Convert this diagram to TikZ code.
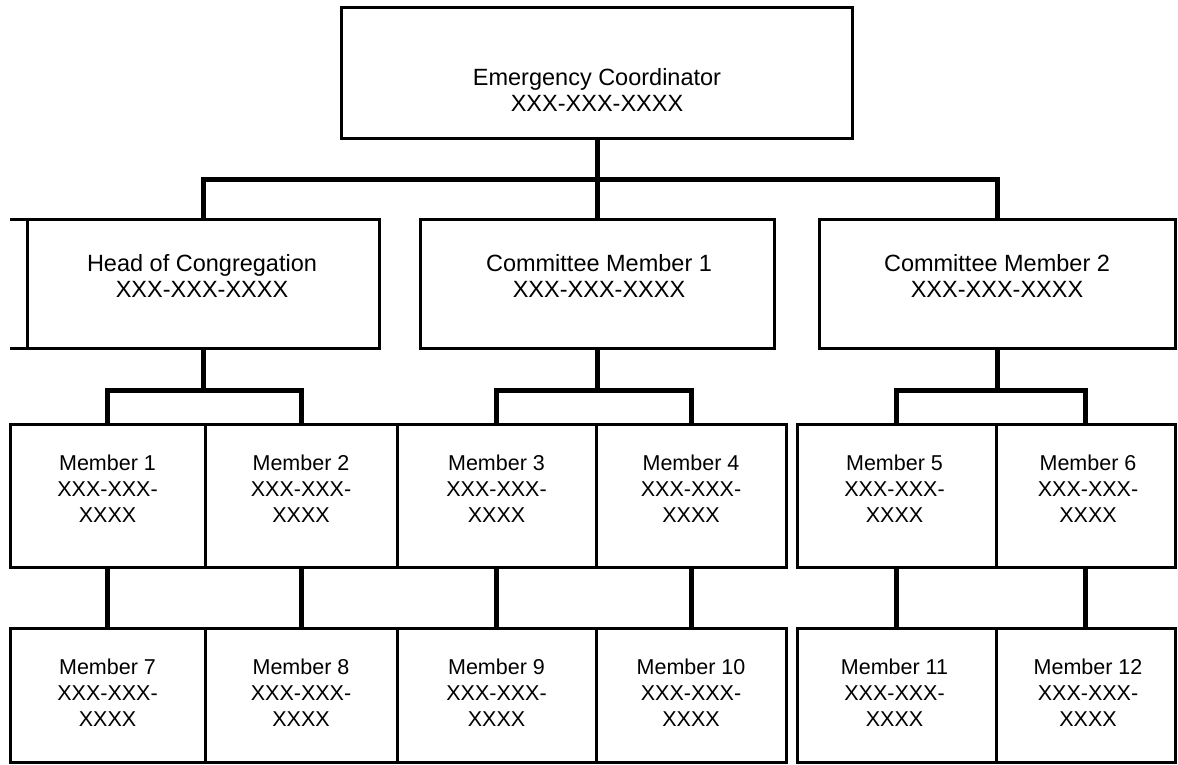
\documentclass[tikz,border=0pt]{standalone}
\usepackage{fontspec}
\setmainfont{Liberation Sans}
\usepackage{tikz}
\tikzstyle{orgbox}=[draw=black,line width=3pt,rectangle,inner sep=0pt,outer sep=0pt]
\tikzstyle{bigtext}=[align=center,inner sep=0pt,font=\fontsize{23.5}{26}\selectfont]
\tikzstyle{smalltext}=[align=center,inner sep=0pt,font=\fontsize{21.5}{26}\selectfont]
\tikzstyle{link}=[draw=black,line width=5pt,line join=miter]

\begin{document}
\begin{tikzpicture}[x=1pt,y=-1pt]
  \useasboundingbox (0,0) rectangle (1178,764);
  % top level
  \node [orgbox,minimum width=511pt,minimum height=131pt] (ec) at (597,72.5) {};
  \node [bigtext] (ectext) at (597,90) {Emergency Coordinator\\XXX-XXX-XXXX};
  % second level
  \node [orgbox,minimum width=352pt,minimum height=129pt] (head) at (203,283.5) {};
  \node [bigtext] (headtext) at (202,275.5) {Head of Congregation\\XXX-XXX-XXXX};
  \draw [orgbox] (head.north west) -- ++(-17,0);
  \draw [orgbox] (head.south west) -- ++(-17,0);
  \node [orgbox,minimum width=354pt,minimum height=129pt] (cm1) at (597,283.5) {};
  \node [bigtext] (cm1text) at (599,275.5) {Committee Member 1\\XXX-XXX-XXXX};
  \node [orgbox,minimum width=356pt,minimum height=129pt] (cm2) at (997,283.5) {};
  \node [bigtext] (cm2text) at (997,275.5) {Committee Member 2\\XXX-XXX-XXXX};
  % members, first row
  \node [orgbox,minimum width=195pt,minimum height=143pt] (m1) at (107.5,495.5) {};
  \node [orgbox,minimum width=192pt,minimum height=143pt] (m2) at (301,495.5) {};
  \node [orgbox,minimum width=199pt,minimum height=143pt] (m3) at (496.5,495.5) {};
  \node [orgbox,minimum width=190pt,minimum height=143pt] (m4) at (691,495.5) {};
  \node [orgbox,minimum width=199pt,minimum height=143pt] (m5) at (896.5,495.5) {};
  \node [orgbox,minimum width=179pt,minimum height=143pt] (m6) at (1085.5,495.5) {};
  \node [smalltext] (m1text) at (107.5,489) {Member 1\\XXX-XXX-\\XXXX};
  \node [smalltext] (m2text) at (301,489) {Member 2\\XXX-XXX-\\XXXX};
  \node [smalltext] (m3text) at (496.5,489) {Member 3\\XXX-XXX-\\XXXX};
  \node [smalltext] (m4text) at (691,489) {Member 4\\XXX-XXX-\\XXXX};
  \node [smalltext] (m5text) at (894.5,489) {Member 5\\XXX-XXX-\\XXXX};
  \node [smalltext] (m6text) at (1088,489) {Member 6\\XXX-XXX-\\XXXX};
  % members, second row
  \node [orgbox,minimum width=195pt,minimum height=134pt] (m7) at (107.5,695) {};
  \node [orgbox,minimum width=192pt,minimum height=134pt] (m8) at (301,695) {};
  \node [orgbox,minimum width=199pt,minimum height=134pt] (m9) at (496.5,695) {};
  \node [orgbox,minimum width=190pt,minimum height=134pt] (m10) at (691,695) {};
  \node [orgbox,minimum width=199pt,minimum height=134pt] (m11) at (896.5,695) {};
  \node [orgbox,minimum width=179pt,minimum height=134pt] (m12) at (1085.5,695) {};
  \node [smalltext] (m7text) at (107.5,693) {Member 7\\XXX-XXX-\\XXXX};
  \node [smalltext] (m8text) at (301,693) {Member 8\\XXX-XXX-\\XXXX};
  \node [smalltext] (m9text) at (496.5,693) {Member 9\\XXX-XXX-\\XXXX};
  \node [smalltext] (m10text) at (691,693) {Member 10\\XXX-XXX-\\XXXX};
  \node [smalltext] (m11text) at (894.5,693) {Member 11\\XXX-XXX-\\XXXX};
  \node [smalltext] (m12text) at (1088,693) {Member 12\\XXX-XXX-\\XXXX};
  % connectors
  \coordinate (bus1) at (597,179);
  \draw [link] (ec.south) -- (bus1);
  \draw [link] (bus1) -- (cm1.north);
  \draw [link] (head.north) |- (bus1) -| (cm2.north);
  \coordinate (bushead) at (203,390);
  \coordinate (buscm1) at (597,390);
  \coordinate (buscm2) at (997,390);
  \draw [link] (head.south) -- (bushead);
  \draw [link] (m1.north) |- (bushead) -| (m2.north);
  \draw [link] (cm1.south) -- (buscm1);
  \draw [link] (m3.north) |- (buscm1) -| (m4.north);
  \draw [link] (cm2.south) -- (buscm2);
  \draw [link] (m5.north) |- (buscm2) -| (m6.north);
  \draw [link] (m1.south) -- (m7.north);
  \draw [link] (m2.south) -- (m8.north);
  \draw [link] (m3.south) -- (m9.north);
  \draw [link] (m4.south) -- (m10.north);
  \draw [link] (m5.south) -- (m11.north);
  \draw [link] (m6.south) -- (m12.north);
\end{tikzpicture}
\end{document}
